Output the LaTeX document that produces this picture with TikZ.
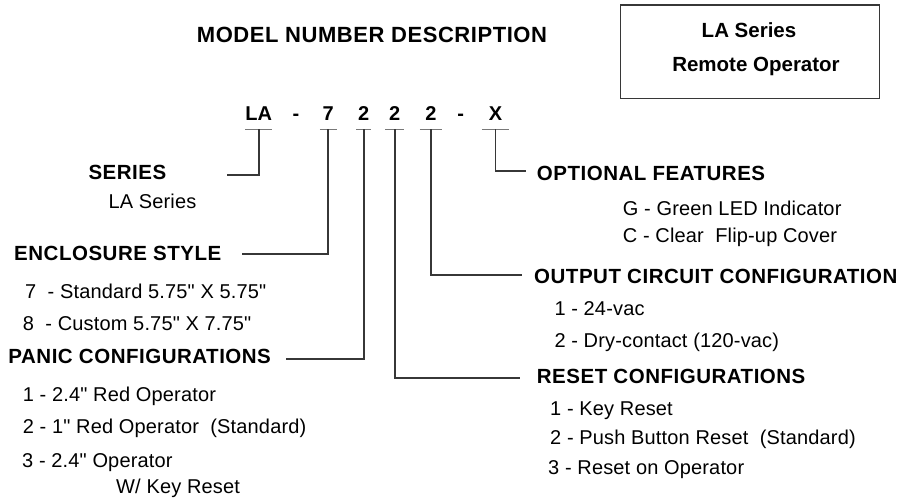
\documentclass[tikz,border=0pt]{standalone}
\usepackage{fontspec}
\setmainfont{Liberation Sans}
\newfontfamily\headfont{Liberation Sans}[LetterSpace=2.5]
\newfontfamily\itemfont{Liberation Sans}[LetterSpace=0.8]
\usetikzlibrary{positioning}
\definecolor{leadgray}{RGB}{55,55,55}
\definecolor{bargray}{RGB}{120,120,120}

\begin{document}
\begin{tikzpicture}[x=1pt,y=-1pt,
    head/.style={anchor=base west,inner sep=0pt,font=\headfont\bfseries\fontsize{20.5}{23}\selectfont},
    item/.style={anchor=base west,inner sep=0pt,font=\itemfont\fontsize{20}{23}\selectfont},
    tagtext/.style={anchor=base,inner sep=0pt,font=\bfseries\fontsize{20.5}{23}\selectfont},
    code/.style={anchor=base,inner xsep=0pt,inner ysep=8.6pt,text depth=0pt,font=\bfseries\fontsize{20}{23}\selectfont},
    lead/.style={draw=leadgray,line width=1.7pt},
    bar/.style={draw=bargray,line width=1.4pt}]
    \fill[white] (0,0) rectangle (901,502);
    \useasboundingbox (0,0) rectangle (901,502);

    % title and tag box
    \node[head,font=\headfont\bfseries\fontsize{22}{25}\selectfont] (title) at (196.7,42.5) {MODEL NUMBER DESCRIPTION};
    \node[draw=leadgray,line width=1.4pt,minimum width=258.6pt,minimum height=93.7pt,inner sep=0pt] (tag) at (750,51.8) {};
    \node[tagtext] (tagseries) at (749,38) {LA Series};
    \node[tagtext] (tagop) at (756,72) {Remote Operator};

    % model number
    \node[code,minimum width=24.3pt] (la) at (258.8,120.7) {LA};
    \node[code] (dasha) at (296,120.7) {-};
    \node[code,minimum width=16.7pt] (encl) at (328.3,120.7) {7};
    \node[code,minimum width=14.3pt] (panic) at (363.8,120.7) {2};
    \node[code,minimum width=18.3pt] (reset) at (394.8,120.7) {2};
    \node[code,minimum width=22pt] (output) at (431,120.7) {2};
    \node[code] (dashb) at (460.7,120.7) {-};
    \node[code,minimum width=27pt] (opt) at (495.5,120.7) {X};
    \foreach \c in {la,encl,panic,reset,output,opt}
      \draw[bar] (\c.south west) -- (\c.south east);

    % left column
    \node[head] (series) at (88.3,180) {SERIES};
    \node[item] (seriesa) at (108.3,208.7) {LA Series};
    \node[head] (enclosure) at (14,261) {ENCLOSURE STYLE};
    \node[item] (encla) at (25,298.7) {7 \ - Standard 5.75" X 5.75"};
    \node[item] (enclb) at (22.7,330) {8 \ - Custom 5.75" X 7.75"};
    \node[head] (panics) at (8.3,363.7) {PANIC CONFIGURATIONS};
    \node[item] (panica) at (22.7,401) {1 - 2.4" Red Operator};
    \node[item] (panicb) at (22.7,433.7) {2 - 1" Red Operator \ (Standard)};
    \node[item] (panicc) at (22,467) {3 - 2.4" Operator};
    \node[item] (panicd) at (116,493.7) {W/ Key Reset};

    % right column
    \node[head] (optional) at (536.7,181) {OPTIONAL FEATURES};
    \node[item] (opta) at (622.7,216) {G - Green LED Indicator};
    \node[item] (optb) at (622.7,243) {C - Clear \ Flip-up Cover};
    \node[head] (outputs) at (534,283.7) {OUTPUT CIRCUIT CONFIGURATION};
    \node[item] (outa) at (554.3,315.3) {1 - 24-vac};
    \node[item] (outb) at (554.3,347) {2 - Dry-contact (120-vac)};
    \node[head] (resets) at (536.7,383.7) {RESET CONFIGURATIONS};
    \node[item] (reseta) at (550,415.3) {1 - Key Reset};
    \node[item] (resetb) at (550,444.3) {2 - Push Button Reset \ (Standard)};
    \node[item] (resetc) at (548,474.3) {3 - Reset on Operator};

    % leader lines
    \coordinate (seriesend) at (226.7,175);
    \coordinate (enclend) at (242.3,254.3);
    \coordinate (panicend) at (286,359.3);
    \coordinate (resetend) at (520,378.3);
    \coordinate (outputend) at (521.7,275);
    \coordinate (optend) at (526,170.7);
    \draw[lead] (la.south) |- (seriesend);
    \draw[lead] (encl.south) |- (enclend);
    \draw[lead] (panic.south) |- (panicend);
    \draw[lead] (reset.south) |- (resetend);
    \draw[lead] (output.south) |- (outputend);
    \draw[lead] (opt.south) |- (optend);
  \end{tikzpicture}
\end{document}
